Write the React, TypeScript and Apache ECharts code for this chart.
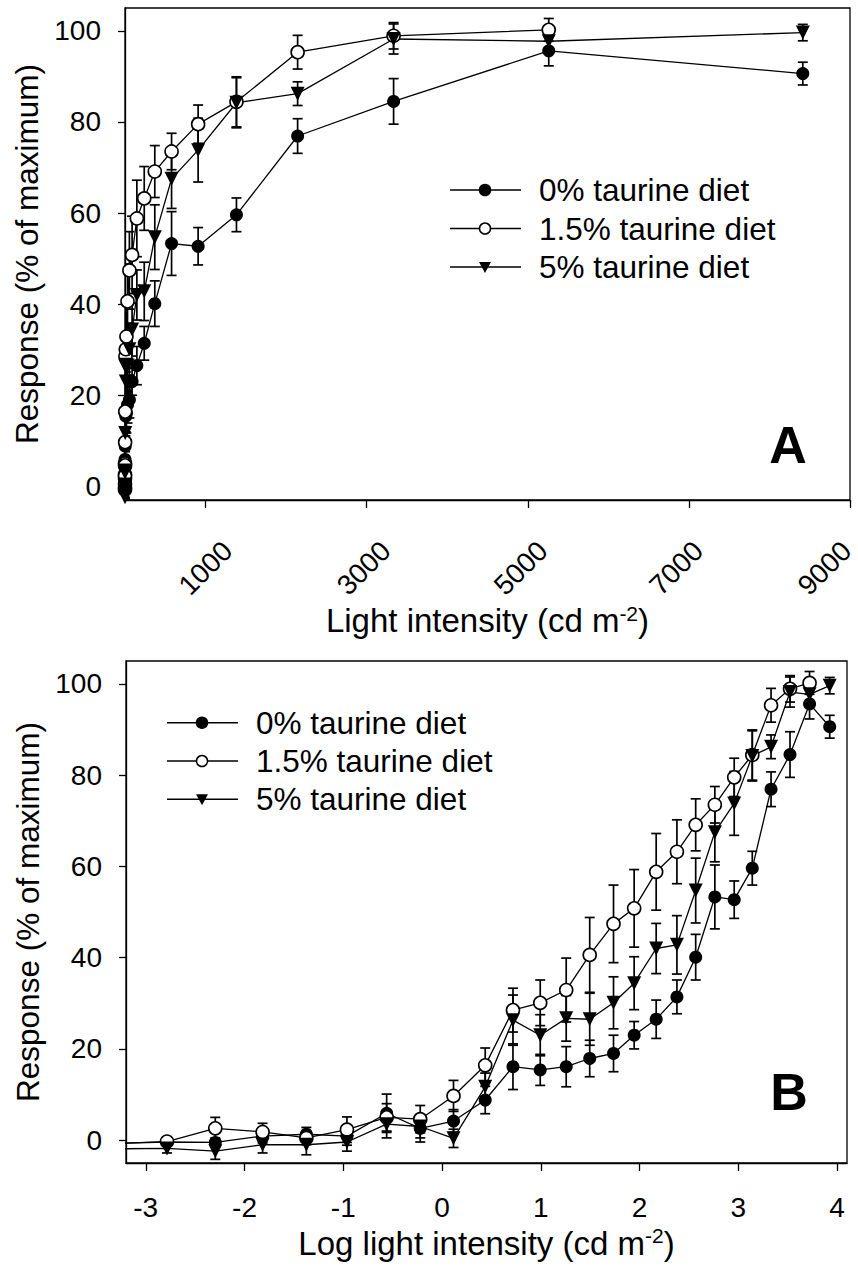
import React, { useEffect, useRef } from "react";
import * as echarts from "echarts";

// Log light intensity (cd m-2) of each stimulus step (first one lies left of the visible axis)
const logIntensity = [-3.3, -2.785, -2.296, -1.817, -1.374, -0.963, -0.561, -0.221, 0.116, 0.437, 0.718, 0.994, 1.257, 1.495, 1.736, 1.945, 2.168, 2.378, 2.568, 2.762, 2.958, 3.141, 3.331, 3.523, 3.721, 3.925];

const seriesNames = ["0% taurine diet", "1.5% taurine diet", "5% taurine diet"];

const resp0 = [-0.7, -0.4, -0.5, 0.9, 1.3, 0.9, 5.9, 2.6, 4.2, 8.8, 16.1, 15.4, 16.1, 17.9, 19.0, 23.0, 26.5, 31.4, 40.1, 53.3, 52.7, 59.6, 76.9, 84.5, 95.6, 90.6];
const err0 = [0.8, 0.8, 1.0, 1.5, 1.5, 2.0, 4.2, 3.0, 2.5, 3.0, 5.0, 3.4, 4.4, 4.0, 4.0, 3.0, 4.2, 3.7, 5.0, 7.0, 4.1, 3.7, 3.8, 5.0, 3.3, 2.5];

const resp15 = [-0.7, -0.3, 2.6, 1.8, 0.5, 2.3, 5.0, 4.6, 9.7, 16.4, 28.5, 30.1, 32.9, 40.6, 47.4, 50.8, 58.8, 63.2, 69.1, 73.5, 79.5, 84.4, 95.3, 98.9, 100.2, null];
const err15 = [0.8, 0.8, 2.4, 1.9, 1.5, 2.8, 3.0, 3.0, 3.4, 3.8, 4.8, 5.0, 7.0, 8.2, 8.5, 8.5, 8.4, 7.0, 5.7, 4.0, 4.2, 5.5, 3.7, 2.9, 2.5, null];

const resp5 = [-1.9, -1.8, -2.4, -1.0, -1.0, -0.4, 3.5, 3.0, 0.4, 11.7, 26.3, 23.0, 26.7, 26.5, 30.1, 34.4, 42.0, 42.8, 54.7, 67.5, 73.8, 84.2, 86.2, 98.2, 97.7, 99.6];
const err5 = [1.0, 1.0, 1.8, 1.8, 2.2, 2.0, 3.0, 2.5, 2.0, 3.0, 5.5, 4.5, 5.0, 5.7, 5.7, 5.8, 5.5, 6.4, 7.1, 6.5, 7.0, 5.5, 2.6, 3.3, 2.5, 1.8];

const yTicks = [0, 20, 40, 60, 80, 100];
const xTicksA = [1000, 3000, 5000, 7000, 9000];
const xTicksB = [-3, -2, -1, 0, 1, 2, 3, 4];

const FONT = "'Liberation Sans', Arial, Helvetica, sans-serif";

const responses = [resp0, resp15, resp5];
const errors = [err0, err15, err5];
const filled = [true, false, true];
const symbols = ["circle", "circle", "triangle"];

function buildOption() {
  const series: any[] = [];
  [0, 1].forEach((p) => {
    const xOf = (l: number) => (p === 0 ? Math.pow(10, l) : l);
    responses.forEach((resp, s) => {
      const pts: number[][] = [];
      const bars: number[][] = [];
      resp.forEach((v, i) => {
        if (v === null || v === undefined) return;
        pts.push([xOf(logIntensity[i]), v as number]);
        bars.push([xOf(logIntensity[i]), v as number, errors[s][i] as number]);
      });
      series.push({
        type: "custom",
        name: seriesNames[s] + " SEM",
        xAxisIndex: p,
        yAxisIndex: p,
        clip: true,
        z: 2,
        encode: { x: 0, y: 1 },
        data: bars,
        renderItem: (params: any, api: any) => {
          const x = api.value(0);
          const y = api.value(1);
          const e = api.value(2);
          const top = api.coord([x, y + e]);
          const bot = api.coord([x, y - e]);
          const hw = 5;
          const st = { stroke: "#000", lineWidth: 1.7 };
          return {
            type: "group",
            children: [
              { type: "line", shape: { x1: top[0], y1: top[1], x2: bot[0], y2: bot[1] }, style: st },
              { type: "line", shape: { x1: top[0] - hw, y1: top[1], x2: top[0] + hw, y2: top[1] }, style: st },
              { type: "line", shape: { x1: bot[0] - hw, y1: bot[1], x2: bot[0] + hw, y2: bot[1] }, style: st },
            ],
          };
        },
      });
      series.push({
        type: "line",
        name: seriesNames[s],
        xAxisIndex: p,
        yAxisIndex: p,
        clip: true,
        z: 3,
        data: pts,
        symbol: symbols[s],
        symbolRotate: s === 2 ? 180 : 0,
        symbolSize: s === 2 ? 14 : 13,
        showAllSymbol: true,
        lineStyle: { color: "#000", width: 1.3 },
        itemStyle: {
          color: filled[s] ? "#000" : "#fff",
          borderColor: "#000",
          borderWidth: filled[s] ? 0 : 1.6,
        },
      });
    });
  });

  const tickLabel = { color: "#000", fontFamily: FONT, fontSize: 28 };
  const axisLine = { show: true, onZero: false, lineStyle: { color: "#000", width: 1.3 } };
  const axisTick = (vals: number[], len: number) => ({
    show: true,
    inside: false,
    length: len,
    customValues: vals,
    lineStyle: { color: "#000", width: 1.3 },
  });
  const nameRich = {
    a: { fontFamily: FONT, fontSize: 33, color: "#000" },
    s: { fontFamily: FONT, fontSize: 21, color: "#000", verticalAlign: "bottom", padding: [0, 0, 15, 0] },
  };

  // rotated tick labels of panel A drift slightly left of their ticks in the reference
  const shiftPad = [0, 4, 10, 18, 36];
  const richA: any = {};
  shiftPad.forEach((pd, i) => {
    richA["r" + i] = { fontFamily: FONT, fontSize: 28, color: "#000", padding: [0, pd, pd, 0] };
  });

  const legend = (x0: number, y0: number, gap: number) => {
    const els: any[] = [];
    for (let s = 0; s < 3; s++) {
      const cy = y0 + s * gap;
      const cx = x0 + 35;
      els.push({ type: "line", shape: { x1: x0, y1: cy, x2: x0 + 71, y2: cy }, style: { stroke: "#000", lineWidth: 1.5 } });
      if (s === 2) {
        els.push({ type: "polygon", shape: { points: [[cx - 6, cy - 5], [cx + 6, cy - 5], [cx, cy + 6]] }, style: { fill: "#000" } });
      } else {
        els.push({ type: "circle", shape: { cx, cy, r: 5.5 }, style: { fill: filled[s] ? "#000" : "#fff", stroke: "#000", lineWidth: 1.5 } });
      }
      els.push({
        type: "text",
        x: x0 + 89,
        y: cy,
        style: { text: seriesNames[s], fill: "#000", fontFamily: FONT, fontSize: 31.5, verticalAlign: "middle", align: "left" },
      });
    }
    return els;
  };

  return {
    animation: false,
    backgroundColor: "#fff",
    grid: [
      { left: 125, top: 8, width: 725, height: 492, show: true, borderColor: "#000", borderWidth: 1.3, containLabel: false, outerBoundsMode: "none" },
      { left: 126, top: 661, width: 721, height: 502, show: true, borderColor: "#000", borderWidth: 1.3, containLabel: false, outerBoundsMode: "none" },
    ],
    xAxis: [
      {
        type: "value",
        gridIndex: 0,
        min: 0,
        max: 9000,
        axisLine,
        axisTick: axisTick(xTicksA, 8),
        splitLine: { show: false },
        axisLabel: {
          ...tickLabel,
          customValues: xTicksA,
          rotate: 45,
          align: "center",
          verticalAlign: "middle",
          margin: 68,
          rich: richA,
          formatter: (v: number) => {
            const i = xTicksA.indexOf(v);
            return "{r" + (i < 0 ? 0 : i) + "|" + String(v) + "}";
          },
        },
        name: "{a|Light intensity (cd m}{s|-2}{a|)}",
        nameLocation: "middle",
        nameGap: 100,
        nameTextStyle: { rich: nameRich },
      },
      {
        type: "value",
        gridIndex: 1,
        min: -3.2,
        max: 4.1,
        axisLine,
        axisTick: axisTick(xTicksB, 8),
        splitLine: { show: false },
        axisLabel: { ...tickLabel, customValues: xTicksB, margin: 30 },
        name: "{a|Log light intensity (cd m}{s|-2}{a|)}",
        nameLocation: "middle",
        nameGap: 62,
        nameTextStyle: { rich: nameRich },
      },
    ],
    yAxis: [
      {
        type: "value",
        gridIndex: 0,
        min: -3,
        max: 105,
        axisLine,
        axisTick: axisTick(yTicks, 7),
        splitLine: { show: false },
        axisLabel: { ...tickLabel, customValues: yTicks, margin: 24 },
        name: "Response (% of maximum)",
        nameLocation: "middle",
        nameGap: 66,
        nameTextStyle: { fontFamily: FONT, fontSize: 31.5, color: "#000" },
      },
      {
        type: "value",
        gridIndex: 1,
        min: -5,
        max: 105,
        axisLine,
        axisTick: axisTick(yTicks, 7),
        splitLine: { show: false },
        axisLabel: { ...tickLabel, customValues: yTicks, margin: 24 },
        name: "Response (% of maximum)",
        nameLocation: "middle",
        nameGap: 66,
        nameTextStyle: { fontFamily: FONT, fontSize: 31.5, color: "#000" },
      },
    ],
    graphic: [
      ...legend(450, 190, 38.5),
      ...legend(167, 722.7, 38.3),
      { type: "text", x: 788, y: 445, style: { text: "A", fontFamily: FONT, fontWeight: "bold", fontSize: 52, fill: "#000", align: "center", verticalAlign: "middle" } },
      { type: "text", x: 789, y: 1092, style: { text: "B", fontFamily: FONT, fontWeight: "bold", fontSize: 52, fill: "#000", align: "center", verticalAlign: "middle" } },
    ],
    series,
  };
}

export default function App() {
  const ref = useRef<HTMLDivElement>(null);
  useEffect(() => {
    const chart = echarts.init(ref.current!, null, { renderer: "svg" });
    chart.setOption(buildOption() as any);
    return () => chart.dispose();
  }, []);
  return (
    <div
      ref={ref}
      style={{ position: "absolute", left: 0, top: 0, width: 858, height: 1266, background: "#fff" }}
    />
  );
}
